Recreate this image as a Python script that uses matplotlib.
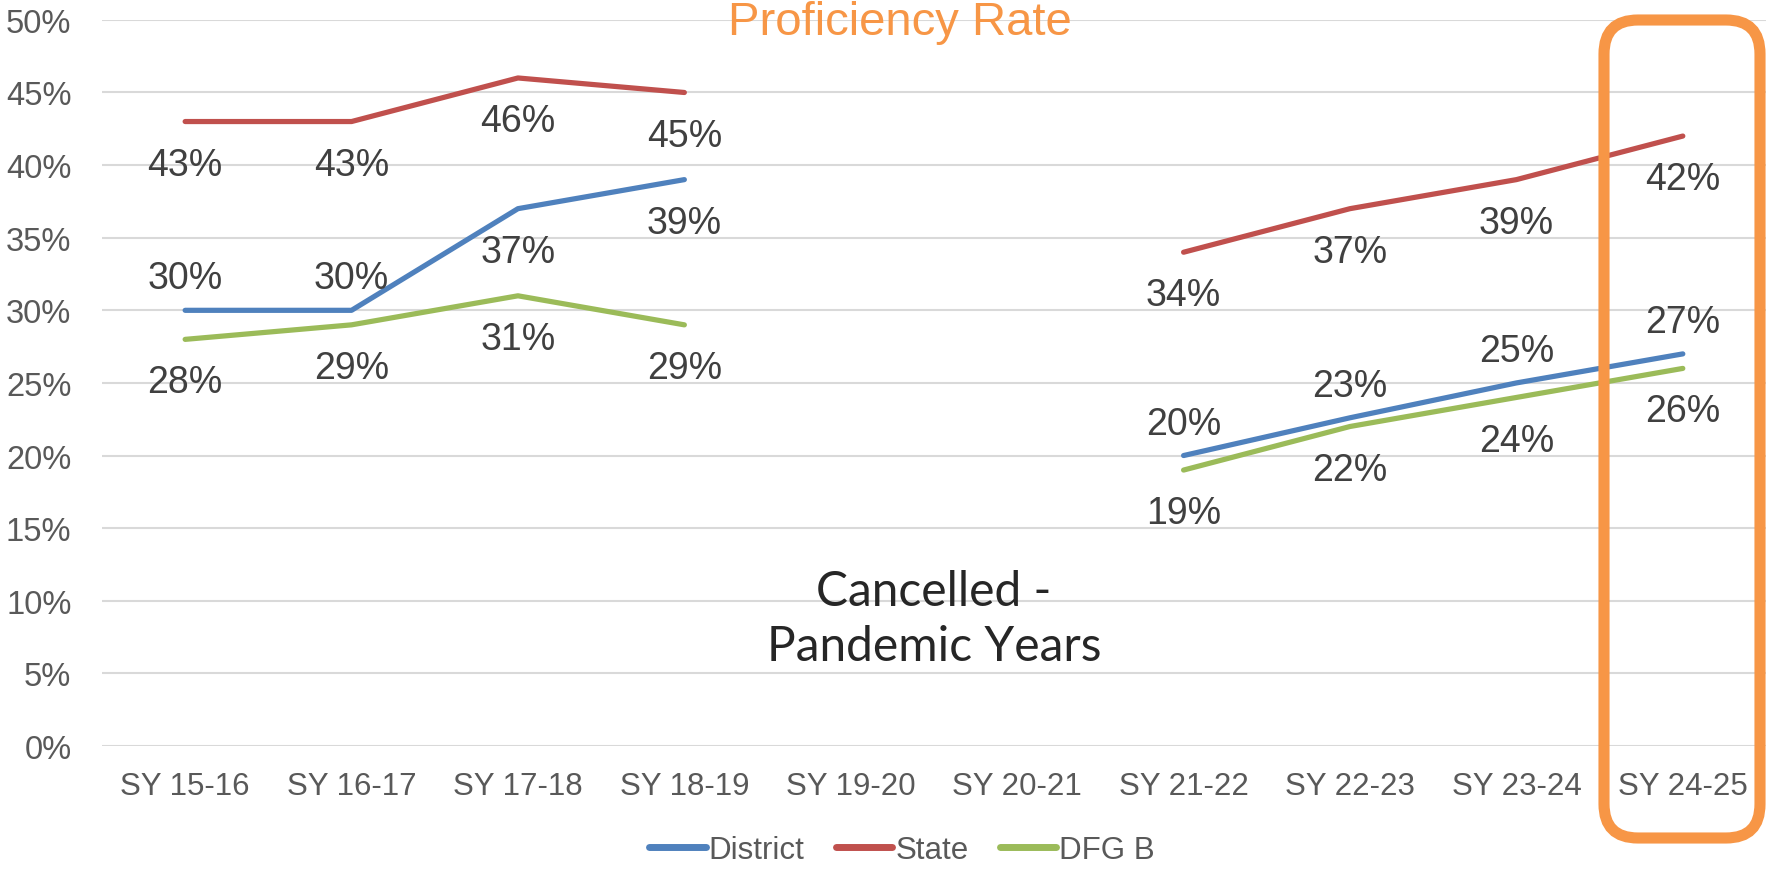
import numpy as np
import matplotlib.pyplot as plt
from matplotlib.patches import FancyBboxPatch
from matplotlib.transforms import IdentityTransform

# Datos
anios = ['SY 15-16', 'SY 16-17', 'SY 17-18', 'SY 18-19', 'SY 19-20',
         'SY 20-21', 'SY 21-22', 'SY 22-23', 'SY 23-24', 'SY 24-25']
district = [30, 30, 37, 39, np.nan, np.nan, 20, 22.6, 25, 27]
state = [43, 43, 46, 45, np.nan, np.nan, 34, 37, 39, 42]
dfg_b = [28, 29, 31, 29, np.nan, np.nan, 19, 22, 24, 26]
etiquetas_district = ['30%', '30%', '37%', '39%', '', '', '20%', '23%', '25%', '27%']
etiquetas_state = ['43%', '43%', '46%', '45%', '', '', '34%', '37%', '39%', '42%']
etiquetas_dfg = ['28%', '29%', '31%', '29%', '', '', '19%', '22%', '24%', '26%']
# arriba (+1) o abajo (-1) de la linea
pos_district = [1, 1, -1, -1, 0, 0, 1, 1, 1, 1]
pos_state = [-1] * 10
pos_dfg = [-1] * 10

plt.rcParams['font.family'] = ['Liberation Sans', 'DejaVu Sans']

fig = plt.figure(figsize=(17.79, 8.70), dpi=100)
ax = fig.add_axes([0.0573, 0.1414, 0.9354, 0.8346])

x = np.arange(len(anios))
series = [
    ('District', district, etiquetas_district, pos_district, '#4F81BD'),
    ('State', state, etiquetas_state, pos_state, '#C0504D'),
    ('DFG B', dfg_b, etiquetas_dfg, pos_dfg, '#9BBB59'),
]
for nombre, valores, etiquetas, posiciones, color in series:
    ax.plot(x, valores, color=color, lw=3.75, solid_capstyle='round', label=nombre)
    for xi, v, et, p in zip(x, valores, etiquetas, posiciones):
        if et:
            # el centro visual queda algo mas alto que el centro de la caja
            dy = 23 if p > 0 else -31
            ax.annotate(et, (xi, v), xytext=(0, dy), textcoords='offset points',
                        ha='center', va='center', fontsize=27, color='#404040')

ax.text(4.5, 8.8, 'Cancelled -\nPandemic Years', ha='center', va='center',
        fontsize=34.5, color='#262626', linespacing=1.3, family=['Lato', 'DejaVu Sans'])

ax.set_xlim(-0.5, len(anios) - 0.5)
ax.set_ylim(0, 50)
ax.set_yticks(np.arange(0, 51, 5))
ax.set_yticklabels([f'{t}%' for t in range(0, 51, 5)])
ax.set_xticks(x)
ax.set_xticklabels(anios)
ax.tick_params(axis='both', length=0, labelsize=22.5, labelcolor='#595959')
ax.tick_params(axis='y', labelsize=23.5, pad=22)
ax.tick_params(axis='x', pad=18)
ax.grid(axis='y', color='#D9D9D9', lw=1.5)
ax.set_axisbelow(True)
for s in ax.spines.values():
    s.set_visible(False)

fig.text(0.506, 0.974, 'Proficiency Rate', ha='center', va='center',
         fontsize=34, color='#F79646')

# recuadro naranja alrededor del ultimo anio
caja = FancyBboxPatch((1604, 31), 156, 818, boxstyle='round,pad=0,rounding_size=34',
                      transform=IdentityTransform(), fill=False,
                      edgecolor='#F79646', lw=8)
fig.patches.append(caja)

leg = fig.legend(loc='center', bbox_to_anchor=(0.507, 0.022), ncol=3, frameon=False,
                 fontsize=22.5, handlelength=1.8, handletextpad=0.1, columnspacing=1.0,
                 labelcolor='#595959', borderpad=0.1)
for linea in leg.get_lines():
    linea.set_linewidth(5)
    linea.set_solid_capstyle('round')

fig.savefig('out.png', dpi=100)
